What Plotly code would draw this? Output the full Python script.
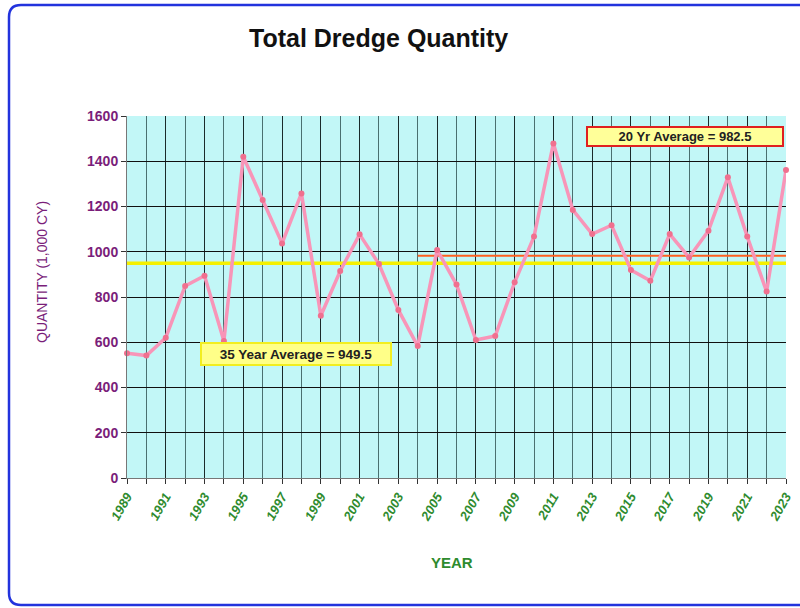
import plotly.graph_objects as go

years = list(range(1989, 2024))
quantity = [551, 541, 620, 849, 894, 605, 1420, 1229, 1037, 1258,
            717, 915, 1077, 946, 743, 583, 1008, 855, 610, 628,
            865, 1067, 1479, 1185, 1078, 1117, 919, 872, 1078, 975,
            1093, 1329, 1067, 824, 1361]
avg35 = 949.5
avg20 = 982.5
avg20_start = 2004
y_ticks = [0, 200, 400, 600, 800, 1000, 1200, 1400, 1600]
x_ticks = list(range(1989, 2024, 2))

# pixel geometry helpers (for placement of border and labels)
L, R, T, B = 127, 786, 116, 478
def px(x):
    return (x - L) / (R - L)
def py(y):
    return (B - y) / (B - T)

fig = go.Figure()

fig.add_trace(go.Scatter(
    x=[years[0], years[-1]], y=[avg35, avg35], mode="lines",
    line=dict(color="#F5F000", width=3.5), hoverinfo="skip", showlegend=False))
fig.add_trace(go.Scatter(
    x=[avg20_start, years[-1]], y=[avg20, avg20], mode="lines",
    line=dict(color="#FF6020", width=2), hoverinfo="skip", showlegend=False))
fig.add_trace(go.Scatter(
    x=years, y=quantity, mode="lines+markers",
    line=dict(color="#F895B8", width=3.5),
    marker=dict(color="#F0708F", size=6),
    showlegend=False, cliponaxis=False))

# rounded border (right side runs off the canvas, as in the reference)
r = 12
x0, x1, y0, y1 = 9, 840, 5, 605
path = (f"M {px(x0+r)},{py(y0)} L {px(x1-r)},{py(y0)} "
        f"Q {px(x1)},{py(y0)} {px(x1)},{py(y0+r)} L {px(x1)},{py(y1-r)} "
        f"Q {px(x1)},{py(y1)} {px(x1-r)},{py(y1)} L {px(x0+r)},{py(y1)} "
        f"Q {px(x0)},{py(y1)} {px(x0)},{py(y1-r)} L {px(x0)},{py(y0+r)} "
        f"Q {px(x0)},{py(y0)} {px(x0+r)},{py(y0)} Z")
fig.add_shape(type="path", path=path, xref="paper", yref="paper",
              line=dict(color="#2233DD", width=2.5), layer="below")

fig.update_layout(
    width=800, height=608, autosize=False,
    margin=dict(l=L, r=800 - R, t=T, b=608 - B, autoexpand=False),
    paper_bgcolor="white",
    plot_bgcolor="#C2F7F7",
    font=dict(family="Liberation Sans, Arial, sans-serif"),
    xaxis=dict(
        range=[1989, 2023], tickvals=x_ticks, automargin=False,
        ticktext=[f"<b><i>{v}</i></b>" for v in x_ticks],
        tickangle=-60, ticks="outside", ticklen=5, tickcolor="#333",
        tickfont=dict(color="#2E8B2E", size=13),
        showgrid=True, gridcolor="#1A2A2A", gridwidth=1,
        minor=dict(dtick=1, tick0=1989, showgrid=True, gridcolor="#4A7070",
                   gridwidth=1, ticks="outside", ticklen=5, tickcolor="#333"),
        showline=True, linecolor="#777", zeroline=False,
    ),
    yaxis=dict(
        range=[0, 1600], tickvals=y_ticks, automargin=False,
        ticktext=[f"<b>{v}</b>" for v in y_ticks],
        ticks="outside", ticklen=5, tickcolor="#333",
        tickfont=dict(color="#7A1E7A", size=14),
        showgrid=True, gridcolor="#101010", gridwidth=1,
        showline=True, linecolor="#777", zeroline=False,
    ),
    annotations=[
        dict(text="<b>Total Dredge Quantity</b>", xref="paper", yref="paper",
             x=px(378), y=py(38), showarrow=False, xanchor="center", yanchor="middle",
             font=dict(size=25, color="#111")),
        dict(text="QUANTITY (1,000 CY)", xref="paper", yref="paper",
             x=px(42), y=py(272), showarrow=False, textangle=-90,
             xanchor="center", yanchor="middle",
             font=dict(size=14, color="#7A1E7A")),
        dict(text="<b>YEAR</b>", xref="paper", yref="paper",
             x=px(452), y=py(562), showarrow=False, xanchor="center", yanchor="middle",
             font=dict(size=15, color="#2E8B2E")),
        dict(text="<b>35 Year Average = 949.5</b>", xref="paper", yref="paper",
             x=px(296), y=py(354), showarrow=False, xanchor="center", yanchor="middle",
             font=dict(size=13.5, color="#222"),
             bgcolor="#FFFF88", bordercolor="#F2EE20", borderwidth=2,
             width=186, height=18),
        dict(text="<b>20 Yr Average = 982.5</b>", xref="paper", yref="paper",
             x=px(685), y=py(136), showarrow=False, xanchor="center", yanchor="middle",
             font=dict(size=13, color="#222"),
             bgcolor="#FFFF99", bordercolor="#E02020", borderwidth=2,
             width=192, height=15),
    ],
)

fig.write_html(
    "out.html",
    config={"responsive": False, "displayModeBar": False},
    post_script="document.body.style.margin='0';document.body.style.overflow='hidden';"
                "document.documentElement.style.overflow='hidden';",
)
